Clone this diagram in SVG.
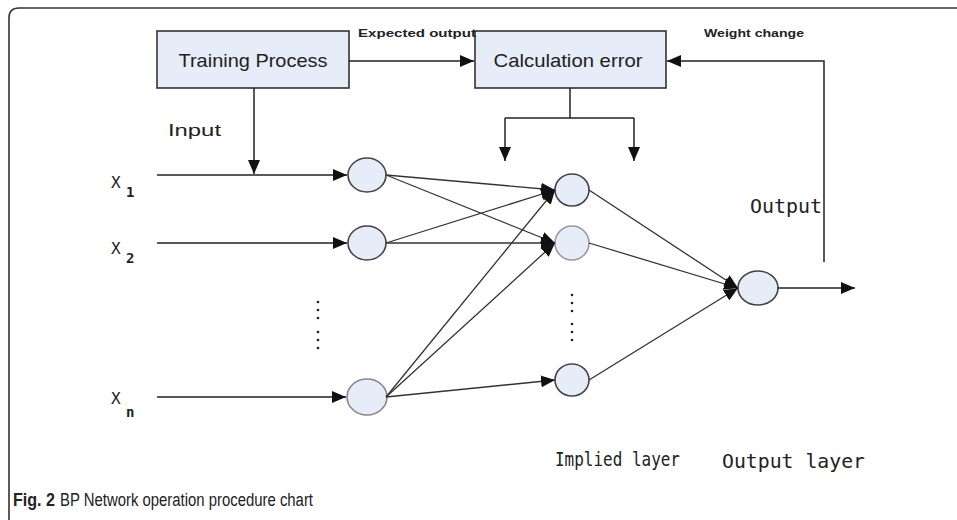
<svg xmlns="http://www.w3.org/2000/svg" width="957" height="520" viewBox="0 0 957 520">
<defs>
<style>
.box{fill:#e6ecf8;stroke:#333;stroke-width:1.6}
.node{fill:#e6ecf8;stroke:#444;stroke-width:1.6}
.line{stroke:#222;stroke-width:1.5;fill:none}
.thin{stroke:#333;stroke-width:1.3;fill:none}
.lbl{font-family:"Liberation Sans",Arial,sans-serif;fill:#222}
.mono{font-family:"DejaVu Sans Mono","Liberation Mono",monospace;fill:#222}
.dot{fill:#222}
</style>
<marker id="ah" viewBox="0 0 14 12" refX="14" refY="6" markerWidth="14" markerHeight="12" markerUnits="userSpaceOnUse" orient="auto">
<path d="M0,0 L14,6 L0,12 Z" fill="#111"/>
</marker>
</defs>
<rect width="957" height="520" fill="#fff"/>
<path d="M9,520 L9,18 Q9,8 19,8 L957,8" fill="none" stroke="#333" stroke-width="1.6"/>

<g id="training">
<rect class="box" x="157" y="31" width="192" height="57"/>
<text class="lbl" x="253" y="67" font-size="19" text-anchor="middle" textLength="149" lengthAdjust="spacingAndGlyphs">Training Process</text>
</g>
<g id="calc">
<rect class="box" x="475" y="31" width="191" height="57"/>
<text class="lbl" x="568" y="67" font-size="19" text-anchor="middle" textLength="149" lengthAdjust="spacingAndGlyphs">Calculation error</text>
</g>

<g id="i1"><ellipse class="node" cx="367" cy="175" rx="19" ry="17"/></g>
<g id="i2"><ellipse class="node" cx="367" cy="243" rx="19" ry="17"/></g>
<g id="in"><ellipse class="node" cx="367" cy="397" rx="20" ry="18" style="stroke:#888"/></g>
<g id="h1"><ellipse class="node" cx="572" cy="190" rx="17" ry="16"/></g>
<g id="h2"><ellipse class="node" cx="572" cy="243" rx="17" ry="17" style="stroke:#999"/></g>
<g id="h3"><ellipse class="node" cx="572" cy="380" rx="17" ry="16"/></g>
<g id="out"><ellipse class="node" cx="758" cy="288" rx="20" ry="17"/></g>

<g id="connectors">
<line class="line" x1="349" y1="61" x2="474" y2="61" marker-end="url(#ah)"/>
<polyline class="line" points="824,262 824,61 667,61" marker-end="url(#ah)"/>
<line class="line" x1="570" y1="88" x2="570" y2="118"/>
<line class="line" x1="505" y1="118" x2="634" y2="118"/>
<line class="line" x1="505" y1="118" x2="505" y2="161" marker-end="url(#ah)"/>
<line class="line" x1="634" y1="118" x2="634" y2="161" marker-end="url(#ah)"/>
<line class="line" x1="254" y1="88" x2="254" y2="174" marker-end="url(#ah)"/>
<line class="line" x1="157" y1="175" x2="347" y2="175" marker-end="url(#ah)"/>
<line class="line" x1="157" y1="243" x2="347" y2="243" marker-end="url(#ah)"/>
<line class="line" x1="157" y1="397" x2="346" y2="397" stroke-width="2.6" marker-end="url(#ah)"/>
<line class="thin" x1="386" y1="175" x2="555" y2="190" marker-end="url(#ah)"/>
<line class="thin" x1="386" y1="175" x2="555" y2="243" marker-end="url(#ah)"/>
<line class="thin" x1="386" y1="243" x2="555" y2="190" marker-end="url(#ah)"/>
<line class="thin" x1="386" y1="243" x2="555" y2="243" marker-end="url(#ah)"/>
<line class="thin" x1="386" y1="397" x2="555" y2="190" marker-end="url(#ah)"/>
<line class="thin" x1="386" y1="397" x2="555" y2="243" marker-end="url(#ah)"/>
<line class="thin" x1="386" y1="397" x2="555" y2="380" marker-end="url(#ah)"/>
<line class="thin" x1="589" y1="190" x2="738" y2="288" marker-end="url(#ah)"/>
<line class="thin" x1="589" y1="243" x2="738" y2="288" marker-end="url(#ah)"/>
<line class="thin" x1="589" y1="380" x2="738" y2="288" marker-end="url(#ah)"/>
<line class="line" x1="778" y1="288" x2="855" y2="288" marker-end="url(#ah)"/>
</g>

<g id="dots">
<circle class="dot" cx="318" cy="302" r="1.3"/><circle class="dot" cx="318" cy="310" r="1.3"/><circle class="dot" cx="318" cy="318" r="1.3"/>
<circle class="dot" cx="318" cy="332" r="1.3"/><circle class="dot" cx="318" cy="340" r="1.3"/><circle class="dot" cx="318" cy="348" r="1.3"/>
<circle class="dot" cx="572" cy="295" r="1.3"/><circle class="dot" cx="572" cy="303" r="1.3"/><circle class="dot" cx="572" cy="311" r="1.3"/>
<circle class="dot" cx="572" cy="324" r="1.3"/><circle class="dot" cx="572" cy="332" r="1.3"/><circle class="dot" cx="572" cy="340" r="1.3"/>
</g>

<g id="labels">
<text class="lbl" x="358" y="37" font-size="11" font-weight="bold" textLength="118" lengthAdjust="spacingAndGlyphs">Expected output</text>
<text class="lbl" x="704" y="37" font-size="11" font-weight="bold" textLength="100" lengthAdjust="spacingAndGlyphs">Weight change</text>
<text class="lbl" x="168" y="136" font-size="17" textLength="53" lengthAdjust="spacingAndGlyphs">Input</text>
<text class="mono" x="750" y="213" font-size="19" textLength="72" lengthAdjust="spacingAndGlyphs">Output</text>
<text class="mono" x="111" y="188" font-size="16">X</text><text class="mono" x="126" y="197" font-size="14" font-weight="bold">1</text>
<text class="mono" x="111" y="254" font-size="16">X</text><text class="mono" x="126" y="263" font-size="14" font-weight="bold">2</text>
<text class="mono" x="111" y="404" font-size="16">X</text><text class="mono" x="126" y="417" font-size="14" font-weight="bold">n</text>
<text class="mono" x="555" y="466" font-size="20" textLength="125" lengthAdjust="spacingAndGlyphs">Implied layer</text>
<text class="mono" x="722" y="468" font-size="20" textLength="143" lengthAdjust="spacingAndGlyphs">Output layer</text>
<text class="lbl" x="13" y="506" font-size="18" fill="#333" font-weight="bold" textLength="42" lengthAdjust="spacingAndGlyphs">Fig. 2</text>
<text class="lbl" x="60" y="506" font-size="18" fill="#333" textLength="253" lengthAdjust="spacingAndGlyphs">BP Network operation procedure chart</text>
</g>
</svg>
